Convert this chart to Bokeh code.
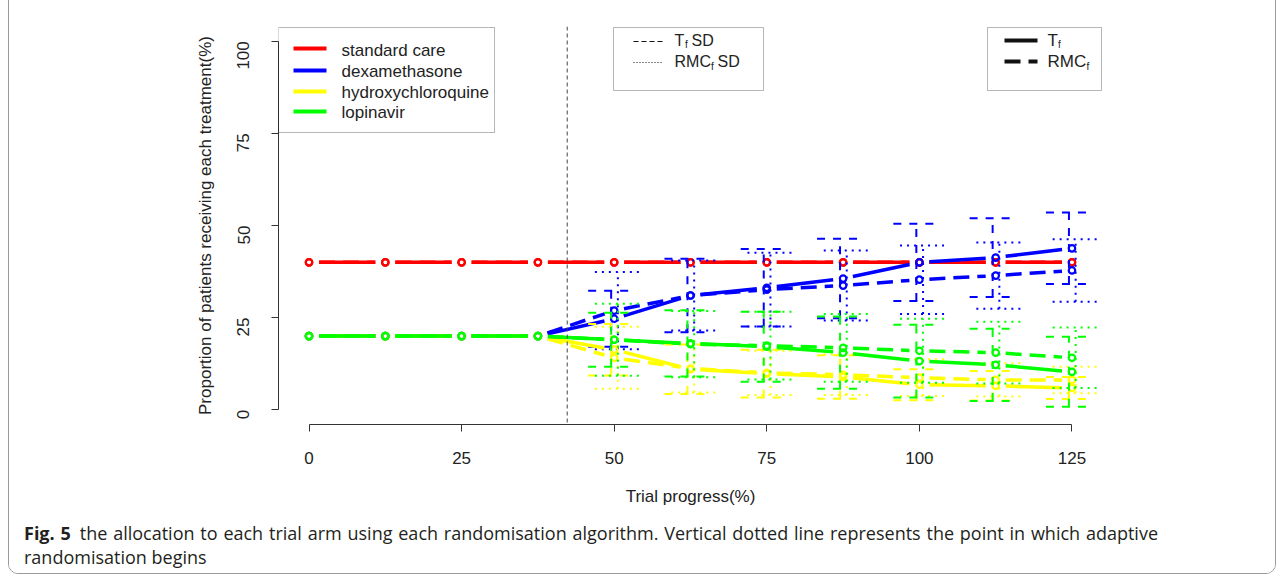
import math
from bokeh.plotting import figure
from bokeh.layouts import column
from bokeh.models import Label, BoxAnnotation, Span, Range1d, FixedTicker, Div
from bokeh.embed import file_html
from bokeh.resources import INLINE

# ---------------- data ----------------
progress = [0, 12.5, 25, 37.5, 50, 62.5, 75, 87.5, 100, 112.5, 125]
x_ticks = [0, 25, 50, 75, 100, 125]
y_ticks = [0, 25, 50, 75, 100]
adaptive_start = 42.3

standard_tf = [40, 40, 40, 40, 40, 40, 40, 40, 40, 40, 40]
standard_rmc = [40, 40, 40, 40, 40, 40, 40, 40, 40, 40, 40]
dexa_tf = [20, 20, 20, 20, 24.7, 31.0, 33.1, 35.6, 40.0, 41.3, 43.8]
dexa_rmc = [20, 20, 20, 20, 26.9, 31.0, 32.6, 33.7, 35.3, 36.4, 37.8]
hcq_tf = [20, 20, 20, 20, 16.3, 11.0, 9.8, 8.9, 6.8, 6.5, 5.9]
hcq_rmc = [20, 20, 20, 20, 14.1, 11.2, 10.0, 9.5, 8.7, 8.1, 8.1]
lop_tf = [20, 20, 20, 20, 19.0, 18.0, 17.1, 15.5, 13.2, 12.2, 10.3]
lop_rmc = [20, 20, 20, 20, 19.0, 17.8, 17.4, 16.8, 16.0, 15.5, 14.1]

dexa_tf_sd = [0, 0, 0, 0, 7.6, 10.0, 10.5, 10.8, 10.5, 10.7, 9.7]
dexa_rmc_sd = [0, 0, 0, 0, 10.5, 9.5, 10.0, 9.5, 9.3, 9.0, 8.5]
hcq_tf_sd = [0, 0, 0, 0, 7.0, 6.7, 6.5, 5.9, 4.2, 4.0, 3.0]
hcq_rmc_sd = [0, 0, 0, 0, 8.4, 6.5, 6.0, 5.5, 5.0, 4.5, 3.6]
lop_tf_sd = [0, 0, 0, 0, 7.3, 9.0, 9.5, 9.8, 9.9, 9.8, 9.5]
lop_rmc_sd = [0, 0, 0, 0, 9.8, 9.0, 9.2, 9.2, 8.7, 8.4, 8.2]

arm_names = ["standard care", "dexamethasone", "hydroxychloroquine", "lopinavir"]
arm_colors = ["#FF0000", "#0000FF", "#FFFF00", "#00FF00"]

x_label = "Trial progress(%)"
y_label = "Proportion of patients receiving each treatment(%)"
caption_bold = "Fig. 5"
caption_line1 = "the allocation to each trial arm using each randomisation algorithm. Vertical dotted line represents the point in which adaptive"
caption_line2 = "randomisation begins"

# ---------------- layout (page pixel coordinates) ----------------
OX, OY = 9, -11            # page position of the inner top-left corner of the bordered box
INNER_W = 1266
SPLIT = 510                # page y where chart panel ends and caption panel starts
BOX_BOTTOM = 573

FL, FR, FT, FB = 278, 1102, 26, 424   # frame edges on the page
XR = (-5.0, 130.0)
YR = (-4.0, 104.0)
kx = (FR - FL) / (XR[1] - XR[0])
ky = (FB - FT) / (YR[1] - YR[0])


def dx(px):
    return XR[0] + (px - FL) / kx


def dy(py):
    return YR[0] + (FB - py) / ky


AX_FONT = "Liberation Sans"
CAP_FONT = "Open Sans"
TXT = "#222222"

chart_h = SPLIT - OY
p = figure(width=INNER_W, height=chart_h, x_range=Range1d(*XR), y_range=Range1d(*YR),
           output_backend="svg", toolbar_location=None,
           min_border_left=FL - OX, min_border_right=OX + INNER_W - FR,
           min_border_top=FT - OY, min_border_bottom=SPLIT - FB)
p.outline_line_color = None
p.xgrid.visible = False
p.ygrid.visible = False
p.background_fill_color = "white"
p.border_fill_color = "white"

for ax in (p.xaxis[0], p.yaxis[0]):
    ax.axis_line_color = "#333333"
    ax.major_tick_line_color = "#333333"
    ax.minor_tick_line_color = None
    ax.major_tick_in = 0
    ax.major_tick_out = 7
    ax.major_label_text_font = AX_FONT
    ax.major_label_text_font_size = "17px"
    ax.major_label_text_color = TXT
    ax.axis_label_text_font = AX_FONT
    ax.axis_label_text_font_size = "17px"
    ax.axis_label_text_font_style = "normal"
    ax.axis_label_text_color = TXT

p.xaxis.bounds = (x_ticks[0], x_ticks[-1])
p.yaxis.bounds = (y_ticks[0], y_ticks[-1])
p.xaxis.ticker = FixedTicker(ticks=x_ticks)
p.yaxis.ticker = FixedTicker(ticks=y_ticks)
p.yaxis.major_label_orientation = math.pi / 2
p.xaxis.axis_label = x_label
p.yaxis.axis_label = y_label
p.xaxis.major_label_standoff = 20
p.yaxis.major_label_standoff = 28
p.xaxis.axis_label_standoff = 20
p.yaxis.axis_label_standoff = 14

# adaptive randomisation start
p.add_layout(Span(location=adaptive_start, dimension="height", line_color="#444444",
                  line_dash="4 3", line_width=1))

GAP = 10.0


def gapped(xs, ys):
    a0, b0, a1, b1 = [], [], [], []
    for i in range(len(xs) - 1):
        ax_, ay_ = xs[i] * kx, ys[i] * ky
        bx_, by_ = xs[i + 1] * kx, ys[i + 1] * ky
        L = math.hypot(bx_ - ax_, by_ - ay_)
        if L <= 2 * GAP:
            continue
        ux, uy = (bx_ - ax_) / L, (by_ - ay_) / L
        a0.append((ax_ + ux * GAP) / kx)
        b0.append((ay_ + uy * GAP) / ky)
        a1.append((bx_ - ux * GAP) / kx)
        b1.append((by_ - uy * GAP) / ky)
    return a0, b0, a1, b1


series = [
    (standard_tf, standard_rmc, None, None, arm_colors[0]),
    (dexa_tf, dexa_rmc, dexa_tf_sd, dexa_rmc_sd, arm_colors[1]),
    (hcq_tf, hcq_rmc, hcq_tf_sd, hcq_rmc_sd, arm_colors[2]),
    (lop_tf, lop_rmc, lop_tf_sd, lop_rmc_sd, arm_colors[3]),
]

CAP = 23.0 / kx
OFF_TF = -0.5
OFF_RMC = 0.6


def errbars(vals, sds, off, color, dash):
    x0, y0, x1, y1 = [], [], [], []
    for xv, v, s in zip(progress, vals, sds):
        if s <= 0:
            continue
        xc = xv + off
        x0 += [xc, xc - CAP, xc - CAP]
        y0 += [v - s, v + s, v - s]
        x1 += [xc, xc + CAP, xc + CAP]
        y1 += [v + s, v + s, v - s]
    p.segment(x0, y0, x1, y1, line_color=color, line_width=2, line_dash=dash)


for tf, rmc, tf_sd, rmc_sd, col in series:
    a0, b0, a1, b1 = gapped(progress, tf)
    p.segment(a0, b0, a1, b1, line_color=col, line_width=3.5)
    a0, b0, a1, b1 = gapped(progress, rmc)
    p.segment(a0, b0, a1, b1, line_color=col, line_width=3.5, line_dash="16 8")
    p.scatter(progress, tf, marker="circle", size=6.5, line_color=col, fill_color=None, line_width=2.2)
    p.scatter(progress, rmc, marker="circle", size=6.5, line_color=col, fill_color=None, line_width=2.2)
    if tf_sd is not None:
        errbars(tf, tf_sd, OFF_TF, col, "8 8")
        errbars(rmc, rmc_sd, OFF_RMC, col, "2 5")


# ---------------- legends ----------------
def box(l, r, t, b):
    p.add_layout(BoxAnnotation(left=dx(l), right=dx(r), top=dy(t), bottom=dy(b),
                               fill_color=None, line_color="#111111", line_width=1,
                               level="overlay"))


def lab(px, py, text, size="17px", font=AX_FONT, style="normal", color=TXT):
    p.add_layout(Label(x=dx(px), y=dy(py), text=text, text_font=font, text_font_size=size,
                       text_font_style=style, text_color=color, text_align="left",
                       text_baseline="middle"))


# legend 1: arms
box(278, 494, 27, 132)
leg_line_y = [48, 70, 91, 111]
leg_text_y = [50.3, 71, 91.5, 111.7]
for name, col, ly, ty in zip(arm_names, arm_colors, leg_line_y, leg_text_y):
    p.segment([dx(293)], [dy(ly)], [dx(326)], [dy(ly)], line_color=col, line_width=4)
    lab(341, ty, name)

# legend 2: SD
box(613, 763, 27, 90)
p.segment([dx(633)], [dy(41)], [dx(662)], [dy(41)], line_color="#111111", line_width=1, line_dash="5 3")
p.segment([dx(633)], [dy(62)], [dx(662)], [dy(62)], line_color="#111111", line_width=1, line_dash="1 2")
lab(674, 39.7, "T", size="16px")
lab(684.5, 44.3, "f", size="10px")
lab(691, 39.7, "SD", size="16px")
lab(674, 61.2, "RMC", size="16px")
lab(710.5, 65.6, "f", size="10px")
lab(717, 61.2, "SD", size="16px")

# legend 3: methods
box(987, 1101, 27, 90)
p.segment([dx(1004)], [dy(40)], [dx(1037)], [dy(40)], line_color="#111111", line_width=4)
p.segment([dx(1004)], [dy(61)], [dx(1037)], [dy(61)], line_color="#111111", line_width=4, line_dash="16 8")
lab(1047, 39.7, "T", size="17px")
lab(1057.5, 44.3, "f", size="10px")
lab(1047, 61.2, "RMC", size="17px")
lab(1086, 65.6, "f", size="10px")

# ---------------- caption ----------------
CAP_LEFT = 24
CAP_RIGHT = 1158
cap_html = (
    f'<div style="font-family:\'{CAP_FONT}\',sans-serif;font-size:18px;color:#231f20;'
    f'line-height:24px;margin:0;padding:{533 - 12 - SPLIT}px 0 0 {CAP_LEFT - OX}px;">'
    f'<div style="width:{CAP_RIGHT - CAP_LEFT}px;text-align:justify;text-align-last:justify;margin:0;">'
    f'<b>{caption_bold}</b>&ensp;{caption_line1}</div>'
    f'<div style="margin:0;">{caption_line2}</div></div>'
)
cap = Div(text=cap_html, width=INNER_W, height=BOX_BOTTOM - SPLIT,
          styles={"background-color": "white", "margin": "0", "padding": "0"})

root = column(p, cap, spacing=0,
              styles={"border": "1px solid #9a9a9a", "border-radius": "10px",
                      "margin-left": f"{OX - 1}px", "margin-top": f"{OY - 1}px",
                      "overflow": "hidden", "background-color": "white"})

open("out.html", "w").write(file_html(root, INLINE))
